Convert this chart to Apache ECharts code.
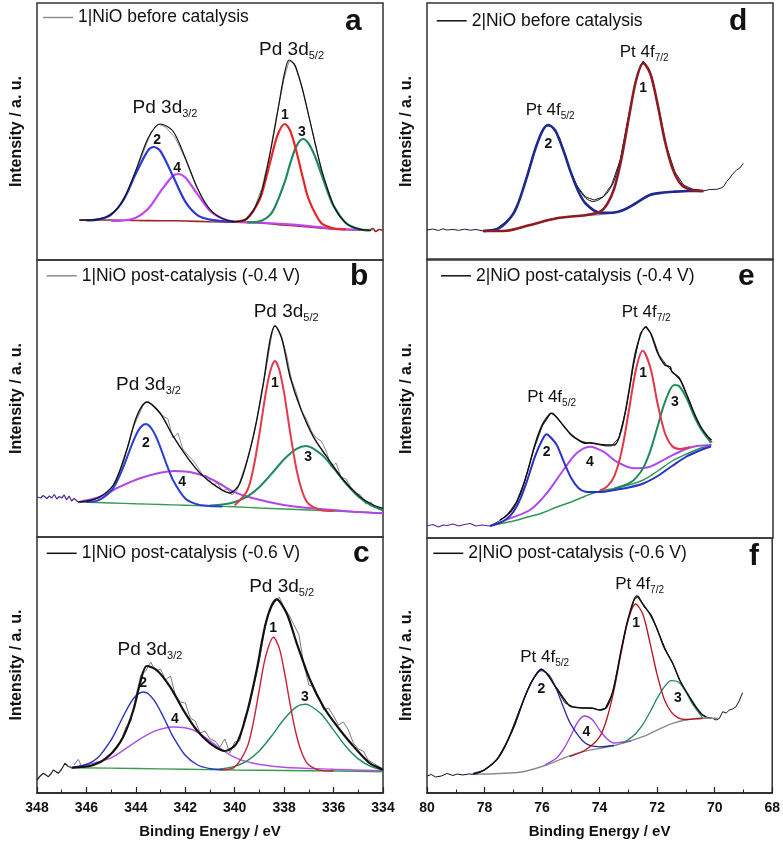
<!DOCTYPE html>
<html><head><meta charset="utf-8">
<script src="https://cdn.jsdelivr.net/npm/echarts@6/dist/echarts.min.js"></script>
<style>html,body{margin:0;padding:0;background:#fff}#c{width:783px;height:847px}</style>
</head><body><div id="c"></div>
<script>
// ---------------- DATA (binding energy eV, intensity a.u.) ----------------
const legendNames = ['1|NiO before catalysis','1|NiO post-catalysis (-0.4 V)','1|NiO post-catalysis (-0.6 V)',
  '2|NiO before catalysis','2|NiO post-catalysis (-0.4 V)','2|NiO post-catalysis (-0.6 V)'];
const panelLetters = ['a','b','c','d','e','f'];
const xRangePd = [334, 348];
const xRangePt = [68, 80];

// Panel a
const aRaw = [[346.3,40],[345.8,40.5],[345.3,42],[344.8,50],[344.3,70],[343.8,101],[343.4,127],[343.1,136],[342.8,133],[342.4,122],[342.0,101],[341.6,76],[341.2,56],[340.8,45],[340.4,40],[340.0,38.5],[339.6,40],[339.2,52],[338.9,72],[338.6,104],[338.3,145],[338.0,182],[337.8,199],[337.6,197],[337.3,175],[337.0,144],[336.7,112],[336.4,83],[336.0,55],[335.6,39],[335.2,32],[334.8,30],[334.4,30]];
const aNoise = [[348,37],[347.8,40],[347.62,38],[347.45,33],[347.3,36],[347.14,38],[347.0,35],[346.8,37],[346.6,36],[346.45,39],[346.26,40]];
const aBg = [[346.26,40],[345.5,40],[345,40],[344,39.5],[343,39.3],[342,39],[341,38.3],[340,37.8],[339,37],[338,35],[337,33],[336,31],[335,30],[334.6,29.5],[334.4,31.5],[334.3,28.5],[334.15,30.5],[334,29.5]];
const aC1 = [[340,38],[339.5,41.4],[339,60.1],[338.75,80],[338.5,104.4],[338.25,126],[337.97,136],[337.75,129],[337.5,108.3],[337.25,83],[337,60.4],[336.5,37],[336,31.5],[335.5,30.5]];
const aC2 = [[346,39.6],[345.5,40.6],[345,45.4],[344.5,60],[344,86.4],[343.5,109.8],[343.27,113],[343,108.6],[342.5,84],[342,58.4],[341.5,44.7],[341,40.4],[340.5,39],[340,38]];
const aC3 = [[339.5,37.6],[339,38.6],[338.5,47.1],[338,76.3],[337.75,96.9],[337.5,114.1],[337.24,121],[337,116.2],[336.75,103.5],[336.5,86.4],[336.25,68.9],[336,54.1],[335.5,36.9],[335,31.1],[334.5,29.5]];
const aC4 = [[345,39],[344.5,39.5],[344,42.3],[343.5,51.3],[343,68.7],[342.5,84.1],[342.29,86],[342,82.5],[341.5,65.6],[341,49.3],[340.5,41.5],[340,38.4],[339,37.5],[338,36],[337,34],[336,31.5],[335,30.2]];
const aEnv = [[346.3,40],[346,39.8],[345.5,40.8],[345,45.6],[344.5,60.5],[344,89.7],[343.5,122],[343.02,136],[342.5,129],[342,102],[341.5,71.3],[341,50.7],[340.5,41.5],[340,38.4],[339.5,41.5],[339,61.7],[338.75,85],[338.5,115.5],[338.25,150],[338,185],[337.8,200],[337.6,196],[337.5,191],[337.25,170],[337,143.6],[336.75,117],[336.5,91.4],[336,54.6],[335.5,36.9],[335,31.1],[334.5,29.5]];

// Panel b
const bRaw = [[346.3,35],[346.1,37],[345.9,36],[345.7,39],[345.5,38],[345.3,43],[345.1,47],[344.9,52],[344.7,62],[344.5,74],[344.3,93],[344.1,110],[343.9,121],[343.7,132],[343.5,136],[343.3,131],[343.1,127],[342.9,121],[342.7,118],[342.5,99],[342.3,104],[342.1,88],[341.9,82],[341.7,77],[341.5,70],[341.3,62],[341.1,61],[340.9,52],[340.7,54],[340.5,46],[340.3,48],[340.1,42],[339.9,47],[339.7,62],[339.5,77],[339.3,95],[339.1,118],[338.9,146],[338.7,172],[338.5,203],[338.4,212],[338.3,210],[338.1,200],[337.9,182],[337.7,157],[337.5,144],[337.3,126],[337.1,118],[336.9,106],[336.7,99],[336.5,96],[336.3,86],[336.1,70],[335.9,74],[335.7,60],[335.5,58],[335.3,50],[335.1,44],[334.9,42],[334.7,33],[334.5,35],[334.3,30],[334.1,28]];
const bNoise = [[348,40],[347.85,39],[347.75,41.5],[347.6,38.5],[347.5,41],[347.4,39],[347.3,42.5],[347.2,38],[347.1,40.5],[347,39],[346.9,42],[346.8,37],[346.7,41],[346.6,36],[346.5,38.5],[346.33,35]];
const bBg = [[346.33,35],[345,34],[344,33.2],[343,32.5],[342,31.7],[341,31],[340,30.2],[339,29],[338,28],[337,27],[336,26],[335,25],[334,23.7]];
const bC1 = [[340,31.7],[339.5,46],[339.25,68],[339,103.1],[338.75,143],[338.55,167],[338.37,176],[338.2,167.5],[338,143.8],[337.75,103.5],[337.5,67.5],[337.25,44.2],[337,32.9],[336.5,26.9],[336,26]];
const bC2 = [[346,35],[345.5,36.8],[345,46.2],[344.75,56.2],[344.5,70.3],[344.25,86.7],[344,101.8],[343.8,110],[343.6,113],[343.4,109.7],[343.2,101.2],[343,89.1],[342.75,72.1],[342.5,57.1],[342,38.5],[341.5,32.5],[341,31],[340.5,30.6]];
const bC3 = [[341,31.6],[340.5,32.4],[340,35],[339.5,40.4],[339,50.1],[338.5,63.5],[338,77.8],[337.5,88.2],[337.12,91],[336.5,82.8],[336,68.9],[335.5,53.5],[335,40.6],[334.5,31.8],[334,26.7]];
const bC4 = [[346.3,35],[345.45,40.3],[344.64,50.3],[343.83,58.7],[343.02,64.3],[342.42,66],[341.68,64.3],[340.87,57],[340.06,45.3],[339.25,38.7],[338.03,32],[337,29],[336,27],[335,25],[334,23.7]];
const bEnv = [[346.33,35],[345.58,38.7],[344.91,52],[344.37,87],[343.97,120.3],[343.56,135],[343.02,123.7],[342.48,100.3],[341.94,80.3],[341.4,63.7],[340.73,50.3],[340.2,44],[339.79,53.7],[339.25,100.3],[338.84,153.7],[338.57,197],[338.37,211],[338.1,198.7],[337.76,160.3],[337.36,130.3],[336.82,100.3],[336.28,80.3],[335.6,57],[334.93,40.3],[334.39,32],[334,28.7]];

// Panel c
const cRaw = [[346.5,28],[346.33,33.7],[346.2,27],[346.0,29],[345.8,27],[345.6,31],[345.4,30],[345.2,36],[345.0,40],[344.8,46],[344.6,52],[344.4,66],[344.2,72],[344.0,96],[343.8,118],[343.6,122],[343.4,131],[343.2,122],[343.0,124],[342.8,113],[342.6,117],[342.4,98],[342.2,91],[342.0,90],[341.8,75],[341.6,72],[341.4,60],[341.2,62],[341.0,54],[340.8,52],[340.6,46],[340.4,54],[340.2,40],[340.0,51],[339.8,52],[339.6,75],[339.4,88],[339.2,110],[339.0,133],[338.8,162],[338.6,183],[338.4,190],[338.2,196],[338.0,185],[337.8,178],[337.6,168],[337.4,158],[337.2,128],[337.0,108],[336.8,106],[336.6,96],[336.4,83],[336.2,85],[336.0,77],[335.8,68],[335.6,71],[335.4,63],[335.2,50],[335.0,44],[334.8,42],[334.6,33],[334.4,30],[334.2,27],[334.0,24]];
const cNoise = [[348,13],[347.87,17],[347.74,19.7],[347.64,18],[347.54,16.3],[347.44,19],[347.34,23],[347.24,21.5],[347.14,19.7],[347.0,24],[346.87,29.7],[346.76,27],[346.6,25.3]];
const cBg = [[346.6,25.3],[344,24.5],[342,23.8],[340,23],[338,22.5],[336,22],[334,21.3]];
const cC1 = [[340.5,23.2],[340,26],[339.5,45.8],[339.25,70.2],[339,104],[338.75,136.4],[338.43,155.7],[338.2,145.1],[338,122.5],[337.75,87.6],[337.5,57.5],[337.25,38],[337,28],[336.5,22.6],[336,22]];
const cC2 = [[346.5,26],[346,28.5],[345.5,36.3],[345,53],[344.75,64.8],[344.5,77.2],[344.25,88.7],[344,97.2],[343.7,101],[343.5,99.3],[343.25,92.3],[343,81.6],[342.75,69.1],[342.5,56.7],[342,37.7],[341.5,28],[341,24.4],[340.5,23.2]];
const cC3 = [[341,23.7],[340.5,24.4],[340,26.6],[339.5,32.1],[339,42.3],[338.5,57.3],[338,74],[337.5,86.1],[337.16,88.7],[337,88],[336.5,78.9],[336,62.8],[335.5,46.5],[335,34.1],[334.5,26.7],[334,23.1]];
const cC4 = [[346.6,25.3],[345.05,34.7],[344.1,49.7],[343.29,61.3],[342.48,66],[341.68,63],[340.87,49.7],[340.06,36.3],[339.25,29.7],[338.03,25.7],[336,23.7],[334.05,22.3]];
const cEnv = [[346.6,25.3],[345.72,28],[345.05,38],[344.51,56.3],[344.1,83],[343.83,109.7],[343.56,127],[343.16,123],[342.62,106.3],[342.08,83],[341.54,63],[341.0,49.7],[340.39,42],[339.92,49.7],[339.51,79.7],[339.11,123],[338.71,173],[338.3,193.7],[337.9,179.7],[337.49,149.7],[336.95,113],[336.41,86.3],[335.74,63],[335.06,43],[334.53,29.7],[334.12,24.7],[334,23]];

// Panel d
const dRaw = [[80,30],[79.8,31],[79.6,29.5],[79.45,31.2],[79.3,30],[79.1,30.6],[78.9,29.6],[78.7,30.8],[78.5,29.8],[78.3,30.5],[78.05,29],[77.6,31],[77.1,42],[76.8,60],[76.5,88],[76.2,116],[75.9,134],[75.7,134],[75.4,122],[75.1,95],[74.8,74],[74.5,63],[74.2,60],[73.9,63],[73.6,75],[73.3,100],[73.0,146],[72.7,186],[72.5,199],[72.3,191],[72.0,157],[71.7,114],[71.4,88],[71.1,75],[70.8,71],[70.42,69],[70.2,70.5],[69.95,70.7],[69.8,72],[69.72,73.3],[69.61,78.3],[69.5,82],[69.38,86.7],[69.26,90],[69.15,92],[69.03,96.7]];
const dBg = [[78.05,29],[77.24,29.3],[76.43,35],[75.5,41.7],[74.8,44],[73.88,45.7],[73.19,50],[72.27,65],[71.46,68.3],[70.42,69]];
const dC1 = [[78.05,29],[77.24,29.3],[76.43,35],[75.5,41.7],[74.8,44],[74.5,44.8],[74,48.4],[73.75,55.9],[73.5,72.2],[73.25,102.2],[73,142.2],[72.75,179.5],[72.5,196.7],[72.25,186],[72,155.2],[71.75,119.2],[71.5,92.7],[71.25,77.7],[71,71.6],[70.5,69],[70.42,69]];
const dC2 = [[78.05,29],[77.5,31.9],[77,46.5],[76.75,63.7],[76.5,86.4],[76.25,110.5],[76,128.9],[75.8,135],[75.6,131.4],[75.5,126.7],[75.25,108],[75,86.6],[74.75,68.5],[74.5,56.5],[74,47.2],[73.5,47.5],[73.19,50],[72.8,56],[72.27,65],[71.8,67.5],[71.46,68.3],[70.9,69],[70.42,69]];
const dEnv = [[78.05,29],[77.5,32],[77,46.5],[76.75,63.7],[76.5,86.4],[76.25,110.5],[76,129],[75.8,135.5],[75.6,131.5],[75.25,108],[75,87],[74.75,72],[74.5,62],[74.23,58.5],[74,61],[73.75,67],[73.5,80],[73.25,106],[73,144],[72.75,180],[72.5,198],[72.25,187],[72,156],[71.75,120],[71.5,93],[71.25,78],[71,72],[70.5,69.5],[70.42,69]];

// Panel e
const eRaw = [[77.82,12],[77.5,17],[77.2,24],[76.9,36],[76.6,58],[76.3,88],[76.0,112],[75.7,125],[75.5,121],[75.3,113],[75.0,104],[74.7,97],[74.4,95],[74.1,94],[73.8,92],[73.6,92],[73.35,100],[73.1,128],[72.85,171],[72.6,205],[72.4,212],[72.2,203],[71.95,183],[71.7,173],[71.45,165],[71.2,157],[70.95,140],[70.7,122],[70.45,108],[70.2,98],[70.1,96]];
const eNoise = [[80,12],[79.8,13.5],[79.6,11],[79.45,13],[79.3,12.5],[79.1,14],[78.9,12],[78.7,13.5],[78.5,14.5],[78.3,12],[78.1,13],[77.82,12]];
const eBg = [[77.82,12],[77.5,14],[77,17],[76.5,21],[76,25],[75.5,31],[75,36],[74.5,42],[74,47],[73.5,49.5],[73,53],[72.5,58],[72,67],[71.5,77],[71,84],[70.5,90],[70.15,93]];
const eC1 = [[74,47.6],[73.75,51.6],[73.5,62.2],[73.25,86.6],[73,127],[72.75,169],[72.52,187.3],[72.25,170],[72,134],[71.75,105],[71.5,92],[71.25,89],[71,90],[70.88,91]];
const eC2 = [[77.82,12],[77.5,15],[77.25,18.8],[77,26.2],[76.75,39.9],[76.5,59.8],[76.25,81.9],[76,98.3],[75.85,103.7],[75.75,101.8],[75.5,93],[75.25,75.8],[75,60],[74.75,50],[74.5,46.2],[74.35,46],[74,46],[73.5,48],[73,50.5],[72.5,54.5],[72,62],[71.5,72],[71,81.5],[70.5,88],[70.15,91.5]];
const eC3 = [[73.5,49.5],[73,54.5],[72.75,60.1],[72.5,70.1],[72.25,87.7],[72,111.7],[71.75,135.7],[71.43,153],[71.25,151.8],[71,139.9],[70.75,122.9],[70.5,108.9],[70.25,99],[70.15,95]];
const eC4 = [[77.3,18],[76.43,28],[75.85,44.7],[75.27,68],[74.81,84.7],[74.35,91.3],[73.88,86.3],[73.42,76.3],[72.84,69.7],[72.27,71.3],[71.69,79.7],[71.11,88],[70.65,92],[70.13,93]];
const eEnv = [[77.47,18],[77.25,22],[77,30],[76.75,45],[76.5,67.8],[76.25,94],[76,113.3],[75.75,123.8],[75.67,124.7],[75.5,120.5],[75.25,111.8],[75,103],[74.75,98],[74.5,94.7],[74.35,95.3],[74,93.5],[73.77,93],[73.5,93],[73.25,109],[73,146],[72.75,188],[72.42,210.7],[72.25,205],[72,185],[71.75,173],[71.57,171.3],[71.5,166],[71.25,160],[71,144],[70.75,126],[70.5,111],[70.25,101],[70.13,98]];

// Panel f
const fRaw = [[80,17],[79.85,18.5],[79.7,16],[79.5,17],[79.3,19.5],[79.1,17.5],[78.95,19],[78.75,18],[78.55,19],[78.39,18.7],[78.0,23],[77.6,32],[77.2,52],[76.8,82],[76.4,110],[76.05,124],[75.8,119],[75.5,104],[75.2,90],[74.9,86],[74.6,85],[74.3,85],[74.0,83],[73.8,85],[73.55,100],[73.3,135],[73.05,170],[72.8,193],[72.65,197],[72.45,186],[72.2,178],[71.95,160],[71.7,143],[71.45,129],[71.2,112],[70.95,99],[70.7,87],[70.5,80],[70.3,76],[70.1,75],[69.95,73],[69.84,74.5],[69.72,81.3],[69.6,80],[69.49,83],[69.38,84],[69.26,86.3],[69.15,92],[69.03,100.3]];
const fBg = [[78.39,18.7],[77.5,19.5],[76.66,21.3],[75.85,28],[74.8,39.7],[73.42,48],[72.5,56.3],[71.46,69.7],[70.42,74.7],[69.9,74.7]];
const fC1 = [[75.04,36.3],[74.5,43],[74,56.2],[73.75,74],[73.5,102.8],[73.25,140.4],[73,173.6],[72.75,189],[72.5,178.9],[72.25,150.4],[72,118.3],[71.75,93.5],[71.5,80.7],[71.25,74.8],[71,73.5],[70.5,74.5],[70.42,74.7]];
const fC2 = [[78.4,19.7],[78,23.2],[77.5,36.1],[77,65],[76.75,84.4],[76.5,102.9],[76.25,116.7],[76.02,122.3],[75.75,117.7],[75.5,103.7],[75.25,85.3],[75,68.7],[74.5,49.9],[74,46.2],[73.5,47.5]];
const fC3 = [[73.2,50],[73,53.4],[72.75,59.3],[72.5,68.4],[72.25,80.8],[72,94.7],[71.75,106.2],[71.51,112.3],[71.25,110.7],[71,101],[70.75,88],[70.5,78.5],[70.42,75]];
const fC4 = [[75.9,28],[75.5,35],[75.25,44.1],[75,57.3],[74.75,71.4],[74.52,77],[74.25,73.3],[74,62.9],[73.75,54.3],[73.5,50],[73.19,51],[72.9,52]];
const fEnv = [[78.39,18.7],[78,23.2],[77.5,36.1],[77,65],[76.5,103],[76.02,123.7],[75.5,105],[75.04,87],[74.8,85.5],[74.5,85],[74.23,84.7],[74,83],[73.75,86],[73.5,106],[73.25,143],[73,175],[72.71,197],[72.5,189],[72.25,179],[72.03,166],[71.75,145],[71.46,129.7],[71.2,112],[70.88,96.3],[70.6,84],[70.42,78],[70.3,76]];

// Peak annotations [E, intensity, text, subscript]
const aNotes = [[337.7,210,'Pd 3d','5/2'],[342.82,152,'Pd 3d','3/2'],[337.97,145,'1'],[337.28,128,'3'],[343.14,120,'2'],[342.33,92,'4']];
const bNotes = [[337.92,225,'Pd 3d','5/2'],[343.49,152,'Pd 3d','3/2'],[338.37,154,'1'],[343.59,94,'2'],[337.03,80,'3'],[342.13,55,'4']];
const cNotes = [[338.1,206,'Pd 3d','5/2'],[343.43,143,'Pd 3d','3/2'],[338.45,165,'1'],[343.71,110,'2'],[337.16,96,'3'],[342.42,74,'4']];
const dNotes = [[72.47,208,'Pt 4f','7/2'],[75.73,150,'Pt 4f','5/2'],[72.5,172,'1'],[75.79,116,'2']];
const eNotes = [[72.4,226,'Pt 4f','7/2'],[75.68,141,'Pt 4f','5/2'],[72.5,165,'1'],[75.85,86,'2'],[71.4,136,'3'],[74.35,76,'4']];
const fNotes = [[72.61,209,'Pt 4f','7/2'],[75.91,136,'Pt 4f','5/2'],[72.73,170,'1'],[76.02,104,'2'],[71.28,95,'3'],[74.46,61,'4']];

// ---------------- LAYOUT / STYLE ----------------
const FONT = '"Liberation Sans", Arial, Helvetica, sans-serif';
const P = [
 {g:[37,3,346,257], xr:xRangePd, bottom:false, lg:[43,8.5], lt:[345,6.7], legendColor:'#8c8c8c',
  raw:aRaw, noise:null, bg:aBg, c1:aC1, c2:aC2, c3:aC3, c4:aC4, env:aEnv, notes:aNotes,
  col:{raw:'#8c8c8c', noise:'#9b2424', bg:'#9b2424', c1:'#e8262a', c2:'#2a3ad6', c3:'#1f8a60', c4:'#c048ee', env:'#111'}, cw:2.2, ew:1.2, envTop:true},
 {g:[37,260,346,277], xr:xRangePd, bottom:false, lg:[46.7,266.8], lt:[350,261.7], legendColor:'#8c8c8c',
  raw:bRaw, noise:bNoise, bg:bBg, c1:bC1, c2:bC2, c3:bC3, c4:bC4, env:bEnv, notes:bNotes,
  col:{raw:'#8c8c8c', noise:'#4a2a90', bg:'#3a9a50', c1:'#e43a4e', c2:'#2a40d4', c3:'#1f8a60', c4:'#b246e6', env:'#111'}, cw:2, ew:1.4, envTop:true},
 {g:[37,537,346,256], xr:xRangePd, bottom:true, lg:[46.7,544.3], lt:[353,538.3], legendColor:'#111',
  raw:cRaw, noise:cNoise, bg:cBg, c1:cC1, c2:cC2, c3:cC3, c4:cC4, env:cEnv, notes:cNotes,
  col:{raw:'#7a7a7a', noise:'#222', bg:'#3a9a50', c1:'#c8203a', c2:'#2a30c8', c3:'#1f8a5a', c4:'#b050e6', env:'#111'}, cw:1.4, ew:2.2, envTop:true},
 {g:[427,3,346,257], xr:xRangePt, bottom:false, lg:[436.7,11.8], lt:[729,6.7], legendColor:'#111',
  raw:dRaw, noise:null, bg:dBg, c1:dC1, c2:dC2, c3:null, c4:null, env:dEnv, notes:dNotes,
  col:{raw:'#1a1a40', bg:'#8a8a9a', c1:'#8e1a22', c2:'#1e2a8e', env:'#111'}, cw:2.6, ew:1, envTop:false},
 {g:[427,259,346,279], xr:xRangePt, bottom:false, lg:[441,266.8], lt:[738,261.7], legendColor:'#111',
  raw:eRaw, noise:eNoise, bg:eBg, c1:eC1, c2:eC2, c3:eC3, c4:eC4, env:eEnv, notes:eNotes,
  col:{raw:'#333', noise:'#5a2aa0', bg:'#2a9a50', c1:'#e0384a', c2:'#2a30c8', c3:'#1f8a5a', c4:'#b048f0', env:'#111'}, cw:2, ew:1.5, envTop:true},
 {g:[427,538,346,255], xr:xRangePt, bottom:true, lg:[433.3,544.3], lt:[749,541.7], legendColor:'#111',
  raw:fRaw, noise:null, bg:fBg, c1:fC1, c2:fC2, c3:fC3, c4:fC4, env:fEnv, notes:fNotes,
  col:{raw:'#111', bg:'#8a8a8a', c1:'#b0141e', c2:'#2a2aa0', c3:'#1f8a5a', c4:'#a040e8', env:'#111'}, cw:1.3, ew:1.5, envTop:true}
];

const grid = [], xAxis = [], yAxis = [], series = [], legend = [], graphic = [];
const richStyles = {
  t: {fontSize:19, fontFamily:FONT, color:'#111', lineHeight:22, verticalAlign:'middle'},
  s: {fontSize:11, fontFamily:FONT, color:'#111', lineHeight:11, verticalAlign:'bottom'},
  u: {fontSize:17, fontFamily:FONT, color:'#111', lineHeight:22, verticalAlign:'middle'},
  v: {fontSize:10, fontFamily:FONT, color:'#111', lineHeight:10, verticalAlign:'bottom'},
  n: {fontSize:14, fontFamily:FONT, fontWeight:'bold', color:'#111', lineHeight:16}
};

P.forEach((p, i) => {
  grid.push({left:p.g[0], top:p.g[1], width:p.g[2], height:p.g[3], show:true, borderColor:'#333', borderWidth:1.5});
  xAxis.push({
    gridIndex:i, type:'value', inverse:true, min:p.xr[0], max:p.xr[1], interval:2, show:p.bottom,
    axisLine:{show:true, lineStyle:{color:'#222', width:1.5}},
    axisTick:{show:true, inside:true, length:6, lineStyle:{color:'#222', width:1.2}},
    minorTick:{show:true, splitNumber:2, length:3.5, lineStyle:{color:'#222', width:1}},
    axisLabel:{show:true, margin:8, fontSize:14, fontWeight:'bold', fontFamily:FONT, color:'#111', showMinLabel:true, showMaxLabel:true},
    splitLine:{show:false}, minorSplitLine:{show:false},
    name:'Binding Energy / eV', nameLocation:'middle', nameGap:31,
    nameTextStyle:{fontSize:15, fontWeight:'bold', fontFamily:FONT, color:'#111'}
  });
  yAxis.push({
    gridIndex:i, type:'value', min:0, max:p.g[3],
    axisLine:{show:false}, axisTick:{show:false}, axisLabel:{show:false}, splitLine:{show:false},
    name:'Intensity / a. u.', nameLocation:'middle', nameGap:12, nameRotate:90,
    nameTextStyle:{fontSize:16, fontWeight:'bold', fontFamily:FONT, color:'#111'}
  });
  const mk = (name, data, color, width, z, smooth) => ({
    type:'line', name, data, xAxisIndex:i, yAxisIndex:i, symbol:'none', showSymbol:false,
    smooth: smooth ? 0.3 : false, silent:true, animation:false, z,
    lineStyle:{color, width}, itemStyle:{color}
  });
  series.push(mk(legendNames[i], p.raw, p.col.raw, 1, 2, false));
  if (p.noise) series.push(mk('noise'+i, p.noise, p.col.noise, 1.2, 2, false));
  series.push(mk('bg'+i, p.bg, p.col.bg, i === 0 ? 1.6 : 1.4, 3, true));
  if (p.c4) series.push(mk('c4_'+i, p.c4, p.col.c4, p.cw, 4, true));
  if (p.c3) series.push(mk('c3_'+i, p.c3, p.col.c3, p.cw, 4, true));
  series.push(mk('c2_'+i, p.c2, p.col.c2, p.cw, 5, true));
  series.push(mk('c1_'+i, p.c1, p.col.c1, p.cw, 5, true));
  const env = mk('env'+i, p.env, p.col.env, p.ew, p.envTop ? 6 : 3, true);
  const isPt = p.xr === xRangePt;
  env.markPoint = {
    symbol:'circle', symbolSize:1, silent:true, animation:false,
    itemStyle:{color:'rgba(0,0,0,0)'},
    label:{show:true, position:'inside', rich:richStyles},
    data: p.notes.map(n => ({
      coord:[n[0], n[1]],
      label:{formatter: n[3] ? (isPt ? '{u|'+n[2]+'}{v|'+n[3]+'}' : '{t|'+n[2]+'}{s|'+n[3]+'}') : '{n|'+n[2]+'}', rich:richStyles}
    }))
  };
  series.push(env);
  legend.push({
    data:[{name:legendNames[i], itemStyle:{color:p.legendColor}}], left:p.lg[0], top:p.lg[1], padding:0, icon:'rect',
    itemWidth:30, itemHeight:1.5, selectedMode:false,
    textStyle:{fontSize:17.5, fontFamily:FONT, color:'#111'}
  });
  graphic.push({type:'text', left:p.lt[0], top:p.lt[1], silent:true,
    style:{text:panelLetters[i], font:'bold 30px ' + FONT, fill:'#111'}});
});

const chart = echarts.init(document.getElementById('c'), null, {renderer:'canvas'});
chart.setOption({animation:false, backgroundColor:'#fff', grid, xAxis, yAxis, series, legend, graphic});
</script>
</body></html>
